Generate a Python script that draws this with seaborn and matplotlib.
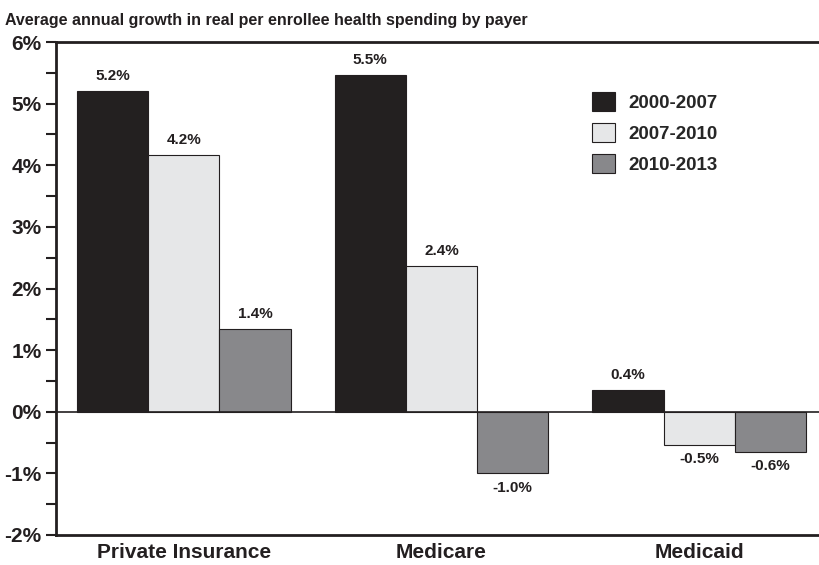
import matplotlib
matplotlib.use("Agg")
import matplotlib.pyplot as plt
from matplotlib.ticker import MultipleLocator, FuncFormatter
import seaborn as sns
import pandas as pd

# data
payers = ["Private Insurance", "Medicare", "Medicaid"]
periods = ["2000-2007", "2007-2010", "2010-2013"]
growth_2000_2007 = [5.21, 5.47, 0.36]
growth_2007_2010 = [4.17, 2.37, -0.54]
growth_2010_2013 = [1.35, -1.00, -0.65]
labels_2000_2007 = ["5.2%", "5.5%", "0.4%"]
labels_2007_2010 = ["4.2%", "2.4%", "-0.5%"]
labels_2010_2013 = ["1.4%", "-1.0%", "-0.6%"]

df = pd.DataFrame({
    "payer": payers * 3,
    "period": [p for p in periods for _ in payers],
    "growth": growth_2000_2007 + growth_2007_2010 + growth_2010_2013,
})
all_labels = [labels_2000_2007, labels_2007_2010, labels_2010_2013]

sns.set_style("ticks")
plt.rcParams["font.family"] = ["Liberation Sans", "DejaVu Sans"]

fig = plt.figure(figsize=(8.19, 5.65), dpi=100)
ax = fig.add_axes([56 / 819, 30 / 565, 1 - 56 / 819, 493 / 565])

colors = ["#231f20", "#e6e7e8", "#87888b"]
sns.barplot(data=df, x="payer", y="growth", hue="period", hue_order=periods,
            order=payers, palette=colors, width=0.83, edgecolor="#231f20",
            linewidth=0.8, ax=ax, legend=True)

for container, labs in zip(ax.containers, all_labels):
    for bar, lab in zip(container, labs):
        h = bar.get_height()
        x = bar.get_x() + bar.get_width() / 2
        if h >= 0:
            ax.text(x, h + 0.12, lab, ha="center", va="bottom",
                    fontsize=11, fontweight="bold", color="#231f20")
        else:
            ax.text(x, h - 0.12, lab, ha="center", va="top",
                    fontsize=11, fontweight="bold", color="#231f20")

ax.axhline(0, color="#231f20", lw=1.2, zorder=1)
ax.set_ylim(-2, 6)
ax.set_xlim(-0.496, 2.465)
ax.yaxis.set_major_locator(MultipleLocator(1))
ax.yaxis.set_minor_locator(MultipleLocator(0.5))
ax.yaxis.set_major_formatter(FuncFormatter(lambda v, p: f"{v:.0f}%"))
ax.tick_params(axis="y", which="both", direction="out", length=7, width=1.5,
               labelsize=15, color="#231f20")
ax.tick_params(axis="x", length=0, labelsize=15, pad=6)
for t in ax.get_yticklabels() + ax.get_xticklabels():
    t.set_fontweight("bold")
    t.set_color("#231f20")
ax.set_xlabel("")
ax.set_ylabel("")
for s in ["left", "bottom", "top"]:
    ax.spines[s].set_linewidth(2)
    ax.spines[s].set_color("#231f20")
ax.spines["right"].set_visible(False)

leg = ax.legend(loc="upper left", bbox_to_anchor=(0.681, 0.933), frameon=False,
                prop={"weight": "bold", "size": 13.5}, handlelength=1.2,
                handleheight=1.2, labelspacing=0.6, handletextpad=0.7)

fig.text(5 / 819, 1 - 20 / 565, "Average annual growth in real per enrollee health spending by payer",
         fontsize=11.5, fontweight="bold", color="#231f20", va="center", ha="left")

fig.savefig("out.png", dpi=100)
